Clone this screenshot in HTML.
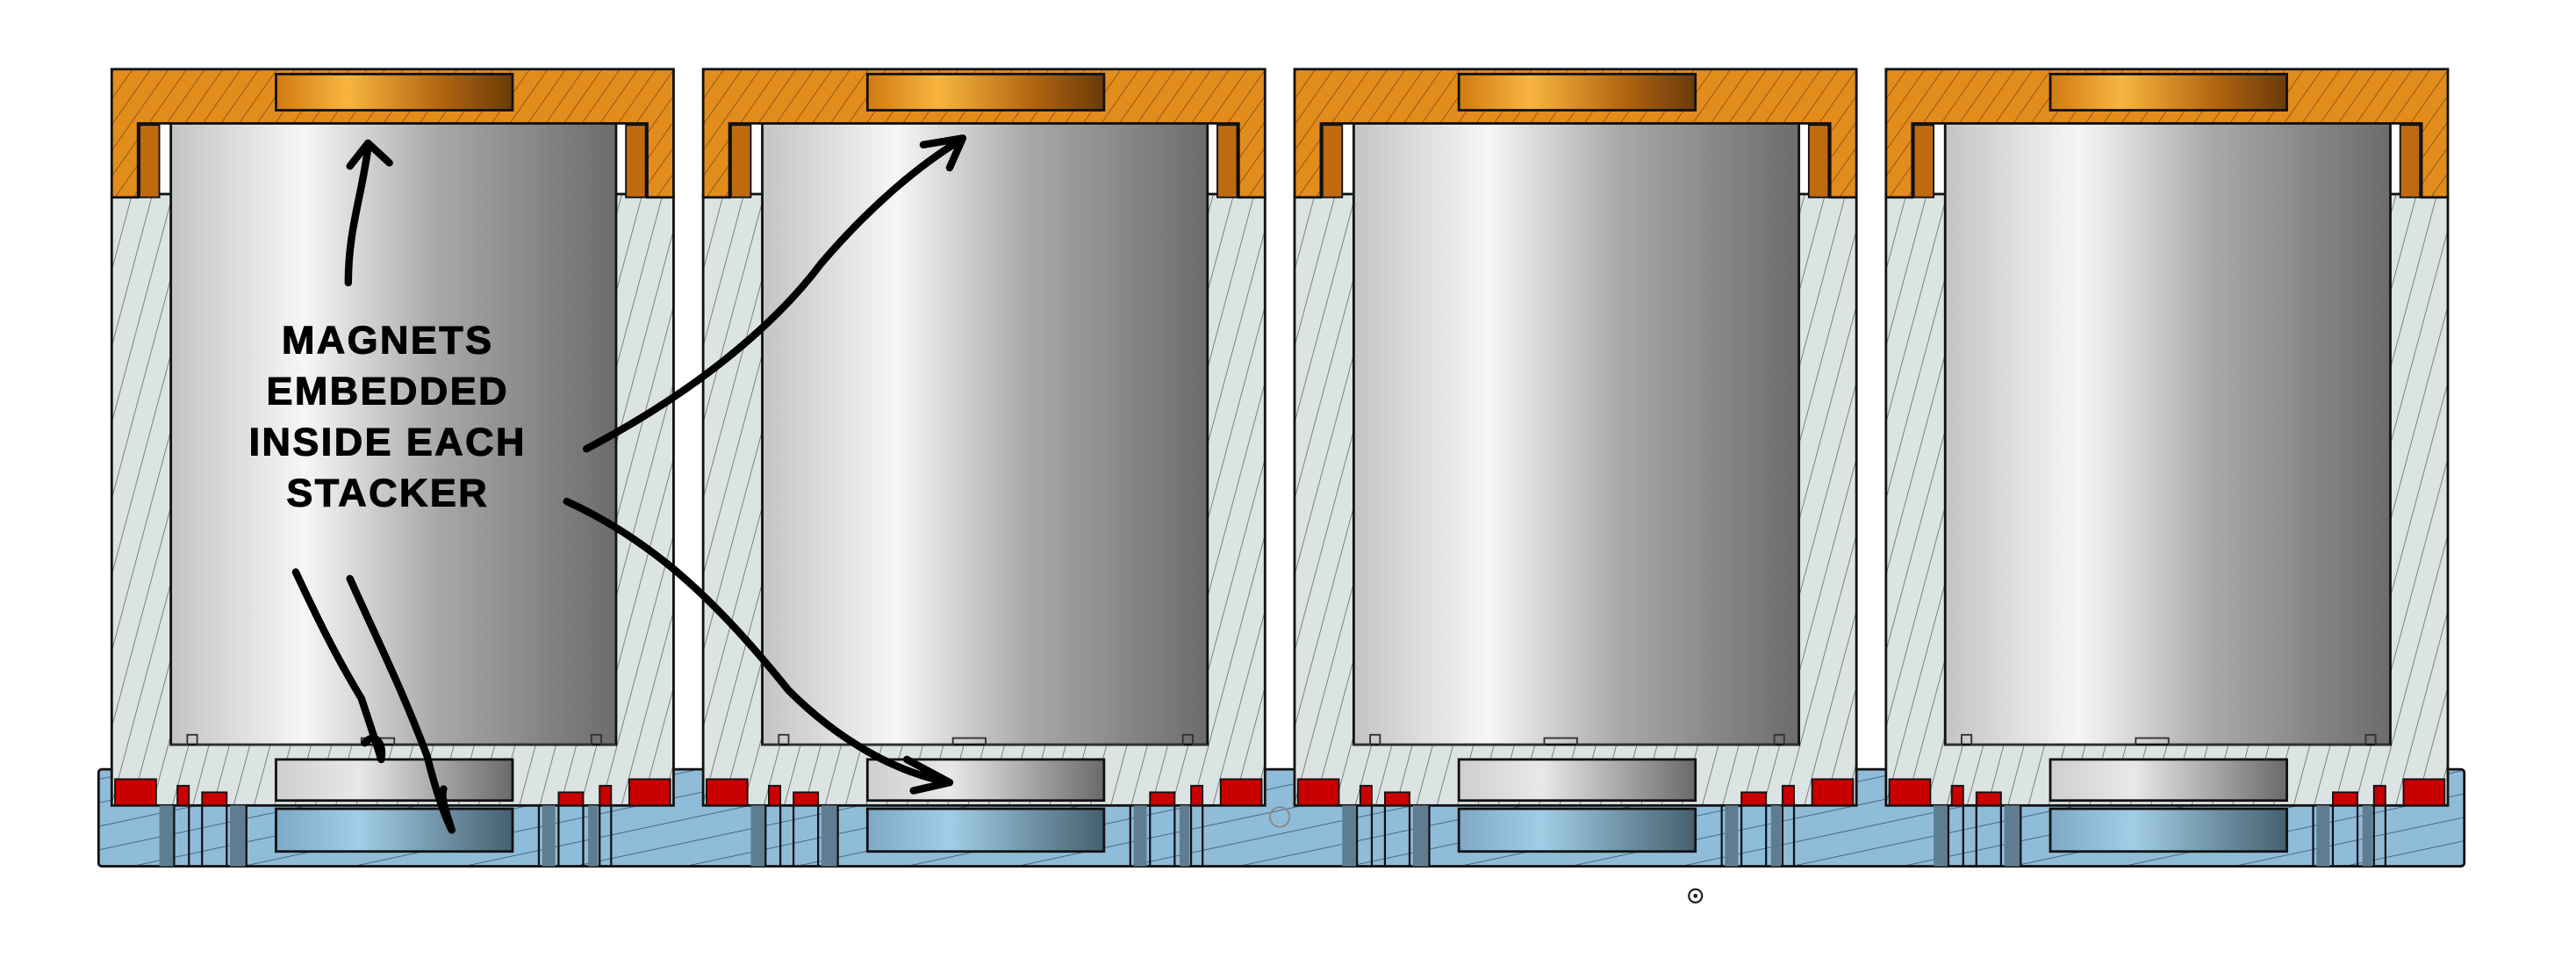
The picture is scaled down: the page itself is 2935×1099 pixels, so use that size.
<!DOCTYPE html>
<html><head><meta charset="utf-8"><style>
html,body{margin:0;padding:0;background:#fff;}
svg{display:block;}
</style></head><body>
<svg width="2935" height="1099" viewBox="0 0 1568 587" xmlns="http://www.w3.org/2000/svg">
<defs>
<pattern id="hO" width="9" height="9" patternUnits="userSpaceOnUse" patternTransform="rotate(35)">
<rect width="9" height="9" fill="#e28c1c"/><line x1="0" y1="0" x2="0" y2="9" stroke="#7a4a10" stroke-width="0.8"/></pattern>
<pattern id="hG" width="12" height="12" patternUnits="userSpaceOnUse" patternTransform="rotate(15)">
<rect width="12" height="12" fill="#dce3e3"/><line x1="0" y1="0" x2="0" y2="12" stroke="#5a6262" stroke-width="0.8"/></pattern>
<pattern id="hB" width="14" height="14" patternUnits="userSpaceOnUse" patternTransform="rotate(78)">
<rect width="14" height="14" fill="#8fbcd9"/><line x1="0" y1="0" x2="0" y2="14" stroke="#2f4f66" stroke-width="0.8"/></pattern>
<linearGradient id="cyl" x1="0" x2="1" y1="0" y2="0">
<stop offset="0" stop-color="#c4c4c4"/><stop offset="0.3" stop-color="#f6f6f6"/><stop offset="0.6" stop-color="#a8a8a8"/><stop offset="1" stop-color="#6c6c6c"/></linearGradient>
<linearGradient id="om" x1="0" x2="1"><stop offset="0" stop-color="#d07a10"/><stop offset="0.3" stop-color="#f8b540"/><stop offset="0.7" stop-color="#b06510"/><stop offset="1" stop-color="#6a3a08"/></linearGradient>
<linearGradient id="gm" x1="0" x2="1"><stop offset="0" stop-color="#cfcfcf"/><stop offset="0.35" stop-color="#e8e8e8"/><stop offset="1" stop-color="#6a6a6a"/></linearGradient>
<linearGradient id="bm" x1="0" x2="1"><stop offset="0" stop-color="#7fa8c4"/><stop offset="0.35" stop-color="#a2cde6"/><stop offset="1" stop-color="#45606f"/></linearGradient>
<g id="unit">
<rect x="68" y="118" width="342" height="372" fill="url(#hG)" stroke="#111" stroke-width="1.5"/>
<rect x="70" y="474" width="25" height="16" fill="#c80000" stroke="#111" stroke-width="1"/>
<rect x="383" y="474" width="25" height="16" fill="#c80000" stroke="#111" stroke-width="1"/>
<rect x="108" y="478" width="7" height="12" fill="#c80000" stroke="#111" stroke-width="1"/>
<rect x="123" y="482" width="15" height="8" fill="#c80000" stroke="#111" stroke-width="1"/>
<rect x="340" y="482" width="15" height="8" fill="#c80000" stroke="#111" stroke-width="1"/>
<rect x="365" y="478" width="7" height="12" fill="#c80000" stroke="#111" stroke-width="1"/>
<rect x="97" y="490" width="9" height="37" fill="#5f7d90"/>
<rect x="140" y="490" width="10" height="37" fill="#5f7d90"/>
<rect x="330" y="490" width="8" height="37" fill="#5f7d90"/>
<rect x="358" y="490" width="6" height="37" fill="#5f7d90"/>
<line x1="106" y1="490" x2="106" y2="527" stroke="#111" stroke-width="1.2"/>
<line x1="115" y1="490" x2="115" y2="527" stroke="#111" stroke-width="1.2"/>
<line x1="123" y1="490" x2="123" y2="527" stroke="#111" stroke-width="1.2"/>
<line x1="138" y1="490" x2="138" y2="527" stroke="#111" stroke-width="1.2"/>
<line x1="150" y1="490" x2="150" y2="527" stroke="#111" stroke-width="1.2"/>
<line x1="328" y1="490" x2="328" y2="527" stroke="#111" stroke-width="1.2"/>
<line x1="340" y1="490" x2="340" y2="527" stroke="#111" stroke-width="1.2"/>
<line x1="355" y1="490" x2="355" y2="527" stroke="#111" stroke-width="1.2"/>
<line x1="365" y1="490" x2="365" y2="527" stroke="#111" stroke-width="1.2"/>
<line x1="372" y1="490" x2="372" y2="527" stroke="#111" stroke-width="1.2"/>
<rect x="104" y="75" width="271" height="378" fill="url(#cyl)" stroke="#111" stroke-width="1.5"/>
<path d="M104,453 h10 v-6 h6 v6 h100 v-4 h20 v4 h120 v-6 h6 v6 h9" fill="none" stroke="#333" stroke-width="1"/>
<rect x="168" y="462" width="144" height="25" fill="url(#gm)" stroke="#111" stroke-width="1.5"/>
<rect x="168" y="492" width="144" height="26" fill="url(#bm)" stroke="#111" stroke-width="1.5"/>
<path d="M68,42 H410 V120 H394 V75 H84 V120 H68 Z" fill="url(#hO)" stroke="#111" stroke-width="1.5"/>
<rect x="85" y="76" width="12" height="44" fill="#c06a10" stroke="#111" stroke-width="1"/>
<rect x="381" y="76" width="12" height="44" fill="#c06a10" stroke="#111" stroke-width="1"/>
<rect x="168" y="45" width="144" height="22" fill="url(#om)" stroke="#111" stroke-width="1.5"/>
</g>
</defs>
<rect x="60" y="468" width="1440" height="59" rx="2" fill="url(#hB)" stroke="#111" stroke-width="1.5"/>
<use href="#unit"/>
<use href="#unit" transform="translate(360,0)"/>
<use href="#unit" transform="translate(720,0)"/>
<use href="#unit" transform="translate(1080,0)"/>
<circle cx="779" cy="497" r="6" fill="none" stroke="#888" stroke-width="1"/>
<circle cx="1032" cy="545" r="4" fill="none" stroke="#222" stroke-width="1.2"/>
<circle cx="1032" cy="545" r="1.3" fill="#222"/>
<g fill="none" stroke="#000" stroke-width="4.5" stroke-linecap="round" stroke-linejoin="round">
<path d="M212,172 C212,140 220,120 224,90"/>
<path d="M213,101 L224,87 L237,99"/>
<path d="M357,273 C420,240 470,200 500,160 C530,125 560,100 585,85"/>
<path d="M562,88 L586,84 L578,102"/>
<path d="M345,305 C400,330 440,370 480,420 C510,450 545,470 578,476"/>
<path d="M552,462 L578,476 L556,481"/>
<path d="M180,348 C195,380 205,400 220,425 C225,440 230,455 232,462 C234,452 228,445 222,452"/>
<path d="M213,352 C230,390 245,420 260,460 C265,480 270,495 275,505 C272,495 268,485 270,480"/>
</g>
<g font-family="Liberation Sans, sans-serif" font-weight="bold" font-size="24" fill="#000" stroke="#000" stroke-width="0.6" letter-spacing="1.3" text-anchor="middle">
<text x="236" y="215">MAGNETS</text>
<text x="236" y="246">EMBEDDED</text>
<text x="236" y="277">INSIDE EACH</text>
<text x="236" y="308">STACKER</text>
</g>
</svg>
</body></html>
